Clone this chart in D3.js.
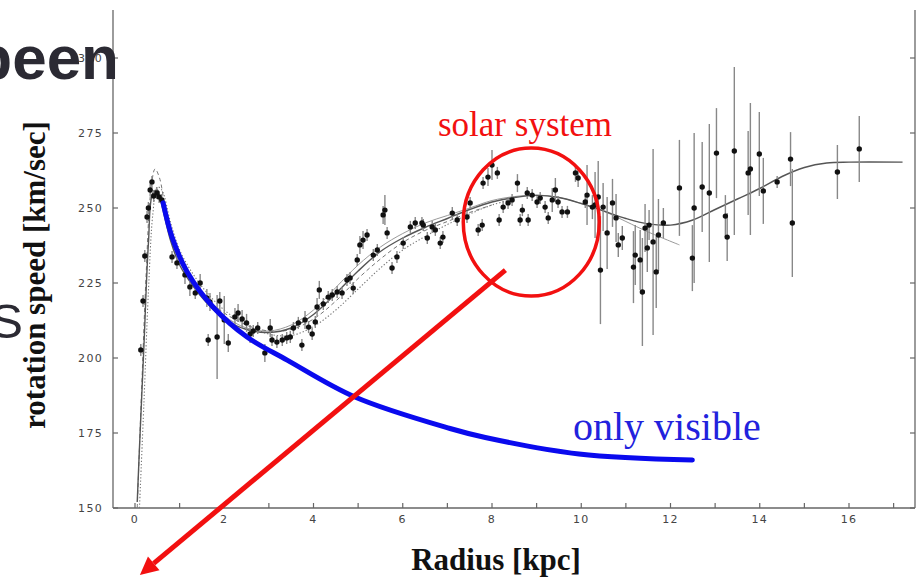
<!DOCTYPE html>
<html><head><meta charset="utf-8">
<script src="https://cdn.jsdelivr.net/npm/d3@7/dist/d3.min.js"></script>
<style>html,body{margin:0;padding:0;background:#fff;} svg{display:block;}</style>
</head><body>
<svg id="chart" width="917" height="577"></svg>
<script>
// ---------- data (radius in kpc, rotation speed in km/s) ----------
const obsRadius = [0.13,0.18,0.22,0.27,0.30,0.34,0.38,0.42,0.49,0.54,0.60,
 0.83,0.94,1.12,1.23,1.35,1.46,1.61,1.68,1.64,1.84,1.90,2.00,2.09,2.24,2.31,2.40,2.50,2.58,2.65,2.75,2.91,3.03,3.07,3.18,3.30,3.40,3.48,3.55,3.66,3.74,3.81,3.89,3.97,4.04,4.08,4.13,4.22,4.33,4.42,4.53,4.64,4.75,4.82,4.89,4.98,5.04,5.11,5.20,5.34,5.43,5.56,5.60,5.65,5.76,5.87,6.01,6.17,6.28,6.43,6.46,6.55,6.66,6.73,6.84,6.90,7.11,7.22,7.44,7.51,7.69,7.78,7.80,7.91,8.00,8.12,8.16,8.25,8.36,8.45,8.57,8.63,8.68,8.79,8.81,8.90,9.01,9.08,9.19,9.26,9.35,9.42,9.48,9.57,9.69,9.87,9.93,10.09,10.13,10.25,10.31,10.38,10.43,10.49,10.58,10.70,10.78,10.83,10.92,11.17,11.21,11.32,11.37,11.43,11.48,11.52,11.61,11.68,11.73,11.84,12.20,12.49,12.53,12.71,12.87,13.03,13.23,13.27,13.43,13.74,13.79,13.99,14.08,14.39,14.69,14.73,15.74,16.23];
const obsSpeed = [202.7,219,234,247,250,256,258.7,254,255,253.7,252.7,
 233.7,231.7,227.7,223.7,221.7,225,220,218.7,206,207,219,212.7,205,213.7,215,213,211.7,208,209,210,201.7,210,206,205.3,206,206.7,207,210,211.7,204.3,212.7,210.3,208,212,217,222.7,218,220.3,221,222,221.7,226,226.7,223.3,232.7,237.7,239.3,241,234.3,236,247.7,249.3,241.7,230,233.7,238.3,243.7,245,245,244.3,240,243.7,242.7,238.3,240.3,248.3,246,247,251.7,242.7,244.3,258.3,260.3,264.3,261.7,246,250.3,251.7,252.7,258.3,246,249.3,255,246,254.3,252,253.3,250.3,246.7,252.7,256,252,248.7,248.7,261.7,260,252,254.3,250.3,251,253.7,229.3,250.3,241.7,251.7,246.7,237.7,240,230.3,234.3,232.7,222,243.3,236.7,244.3,238.7,228.7,241,245,256.7,233.3,250,257,255,268.3,247.3,240.3,269,261.7,263,268,255.7,258.7,266.3,245,262,269.7];
const obsError = [2,2,2,2,2,2,2,2,2,2,2,
 2,2,3,3,2,3,3,3,2,14,3,8,3,3,3,3,3,3,2,2,3,3,2,2,2,2,2,2,2,2,3,2,2,2,3,3,2,2,2,2,2,2,2,2,2,3,3,2,2,2,3,5,2,2,2,2,2,2,2,2,2,2,2,2,2,2,2,2,2,2,2,2,3,5,2,2,2,2,2,3,2,2,2,2,2,2,2,2,2,4,4,2,2,2,3,3,2,10,4,11,12,18,8,12,8,8,4,4,12,10,10,18,8,8,5,31,12,12,5,16,11,25,15,23,15,7,8,28,14,22,14,11,2,9,18,9,11];

// main model fit (solid)
const fitRadius = [0.05,0.1,0.2,0.3,0.4,0.5,0.6,0.8,1.0,1.3,1.6,2.0,2.5,3.0,3.5,4.0,4.5,5.0,5.5,6.0,6.5,7.0,7.5,8.0,8.5,9.0,9.5,10.0,10.5,11.0,11.5,12.0,12.5,13.0,13.5,14.0,14.5,15.0,15.5,16.0,17.2];
const fitSpeed  = [152,170,204,238,255,256,251,239,231,224,218.5,213,209.5,208.5,210,214.5,221.5,229,235.5,240,243.5,246.5,249.5,252,253.5,254.2,253.5,251.5,249,246.5,244.7,244.3,246,249.5,253,256.5,260.5,263.5,265,265.3,265.3];
// second fit (thin solid, ends at 12.2 kpc)
const fit2Radius = [0.7,1.0,1.5,2.0,2.5,3.0,3.5,4.0,4.5,5.0,5.5,6.0,6.5,7.0,7.5,8.0,8.5,9.0,9.5,10.0,10.5,11.0,11.5,12.2];
const fit2Speed  = [246,232,221,214,210,209,211,216,223.5,231,237,241.5,245,247.5,250,252.5,253.8,254.3,253.5,251.5,249,245.5,242,237.7];
// dashed model
const dashRadius = [0.05,0.15,0.25,0.35,0.45,0.55,0.7,0.9,1.2,1.6,2.0,2.5,3.0,3.5,4.0,4.5,5.0,5.5,6.0,6.5,7.0,7.5,8.0];
const dashSpeed  = [150,190,228,255,263,260,248,237,228,220,215,211,209,209.5,213,219,226.5,233,238.5,242.5,245.5,248.5,251];
// dotted model
const dotRadius = [0.1,0.2,0.3,0.4,0.5,0.6,0.8,1.0,1.3,1.6,2.0,2.5,3.0,3.5,4.0,4.5,5.0,5.5,6.0,6.5,7.0,7.5,8.0,8.5];
const dotSpeed  = [150,185,222,248,257,256,245,236,228,222,216,211,208,207.5,210.5,216,223,230,236,240.5,244.5,248,251,253];
// "only visible" curve
const visRadius = [0.63,0.83,1.17,1.75,2.51,3.41,4.93,7.06,7.85,9.95,12.49];
const visSpeed  = [251.7,240.3,228.7,217,207,199.3,187,176.5,173.5,168,166];
// annotations (data coordinates)
const solarCenter = [8.88, 245.3];
const arrowFrom = [8.3, 229.3];
const arrowTo = [0.11, 127.7];

// tick labels
const xTicks = [0,2,4,6,8,10,12,14,16];
const xMinorTicks = [1,3,5,7,9,11,13,15,17];
const yTicks = [150,175,200,225,250,275,300];

// ---------- drawing ----------
(function draw(){
const svg = d3.select("#chart");
svg.append("rect").attr("width",917).attr("height",577).attr("fill","#fff");

const x = d3.scaleLinear().domain([0,16]).range([135,849]);
const y = d3.scaleLinear().domain([150,300]).range([508,58]);
const fL = 113, fR = 915, fT = 10, fB = 508;

// big slide text behind the chart
svg.append("text").attr("x",23).attr("y",338).attr("text-anchor","end")
  .attr("font-family","Liberation Sans, Arial, sans-serif").attr("font-size",49)
  .attr("fill","#2b2a33").text("S");

// frame / axes
const axisColor = "#666";
svg.append("line").attr("x1",fL).attr("x2",fL).attr("y1",fT).attr("y2",fB).attr("stroke",axisColor).attr("stroke-width",1.3);
svg.append("line").attr("x1",fR).attr("x2",fR).attr("y1",fT).attr("y2",fB).attr("stroke",axisColor).attr("stroke-width",1.3);
svg.append("line").attr("x1",fL).attr("x2",fR).attr("y1",fB).attr("y2",fB).attr("stroke",axisColor).attr("stroke-width",1.3);

const g = svg.append("g");
yTicks.forEach(t => {
  g.append("line").attr("x1",fL).attr("x2",fL+5).attr("y1",y(t)).attr("y2",y(t)).attr("stroke",axisColor).attr("stroke-width",1.2);
  g.append("line").attr("x1",fR-5).attr("x2",fR).attr("y1",y(t)).attr("y2",y(t)).attr("stroke",axisColor).attr("stroke-width",1.2);
  g.append("text").attr("x",103).attr("y",y(t)+4).attr("text-anchor","end")
    .attr("font-family","DejaVu Sans, sans-serif").attr("font-size",11).attr("letter-spacing",1.3)
    .attr("fill","#444").text(t);
});
xTicks.concat(xMinorTicks).forEach(t => {
  g.append("line").attr("x1",x(t)).attr("x2",x(t)).attr("y1",fB).attr("y2",fB-5).attr("stroke",axisColor).attr("stroke-width",1.2);
});
xTicks.forEach(t => {
  g.append("text").attr("x",x(t)).attr("y",fB+15).attr("text-anchor","middle")
    .attr("font-family","DejaVu Sans, sans-serif").attr("font-size",11).attr("letter-spacing",1.3)
    .attr("fill","#444").text(t);
});

// model curves
const mkLine = (rs, vs) => d3.line().x(i => x(rs[i])).y(i => y(vs[i])).curve(d3.curveCatmullRom)(d3.range(rs.length));
svg.append("path").attr("d", mkLine(fit2Radius, fit2Speed)).attr("fill","none").attr("stroke","#9a9a9a").attr("stroke-width",1);
svg.append("path").attr("d", mkLine(dashRadius, dashSpeed)).attr("fill","none").attr("stroke","#777").attr("stroke-width",1).attr("stroke-dasharray","4,3");
svg.append("path").attr("d", mkLine(dotRadius, dotSpeed)).attr("fill","none").attr("stroke","#777").attr("stroke-width",1.1).attr("stroke-dasharray","1.3,2");
svg.append("path").attr("d", mkLine(fitRadius, fitSpeed)).attr("fill","none").attr("stroke","#555").attr("stroke-width",1.4);

// error bars + points
const idx = d3.range(obsRadius.length);
svg.append("g").selectAll("line").data(idx).join("line")
  .attr("x1", i => x(obsRadius[i])).attr("x2", i => x(obsRadius[i]))
  .attr("y1", i => y(obsSpeed[i]-obsError[i])).attr("y2", i => y(obsSpeed[i]+obsError[i]))
  .attr("stroke","#888").attr("stroke-width",1.4);
svg.append("g").selectAll("circle").data(idx).join("circle")
  .attr("cx", i => x(obsRadius[i])).attr("cy", i => y(obsSpeed[i])).attr("r",2.7)
  .attr("fill","#111");

// only visible curve
svg.append("path").attr("d", mkLine(visRadius, visSpeed)).attr("fill","none")
  .attr("stroke","#0a0aee").attr("stroke-width",5).attr("stroke-linecap","round");
svg.append("text").attr("x",573).attr("y",440)
  .attr("font-family","Liberation Serif, Times New Roman, serif").attr("font-size",40)
  .attr("fill","#2222dd").text("only visible");

// solar system circle
svg.append("ellipse").attr("cx", x(solarCenter[0])).attr("cy", y(solarCenter[1]))
  .attr("rx",68).attr("ry",74).attr("fill","none").attr("stroke","#f21010").attr("stroke-width",3.5);
svg.append("text").attr("x",525).attr("y",136).attr("text-anchor","middle")
  .attr("font-family","Liberation Serif, Times New Roman, serif").attr("font-size",35)
  .attr("fill","#f21010").text("solar system");

// red arrow
const ax1 = x(arrowFrom[0]), ay1 = y(arrowFrom[1]), ax2 = x(arrowTo[0]), ay2 = y(arrowTo[1]);
const ang = Math.atan2(ay2-ay1, ax2-ax1);
const headLen = 18, headW = 9;
const bx = ax2 - headLen*Math.cos(ang), by = ay2 - headLen*Math.sin(ang);
svg.append("line").attr("x1",ax1).attr("y1",ay1).attr("x2",bx).attr("y2",by)
  .attr("stroke","#f21010").attr("stroke-width",5);
svg.append("path").attr("fill","#f21010").attr("d",
  `M${ax2},${ay2} L${bx + headW*Math.sin(ang)},${by - headW*Math.cos(ang)} L${bx - headW*Math.sin(ang)},${by + headW*Math.cos(ang)} Z`);

// axis titles
svg.append("text").attr("x",496).attr("y",570).attr("text-anchor","middle")
  .attr("font-family","Liberation Serif, Times New Roman, serif").attr("font-weight","bold").attr("font-size",31)
  .attr("fill","#111").text("Radius [kpc]");
svg.append("text").attr("transform","translate(45,275) rotate(-90)").attr("text-anchor","middle")
  .attr("font-family","Liberation Serif, Times New Roman, serif").attr("font-weight","bold").attr("font-size",31)
  .attr("fill","#111").text("rotation speed [km/sec]");

// slide title fragment on top
svg.append("text").attr("x",119).attr("y",79).attr("text-anchor","end")
  .attr("font-family","Liberation Sans, Arial, sans-serif").attr("font-weight","bold").attr("font-size",62)
  .attr("fill","#2b2a33").text("been");
})();
</script>
</body></html>
